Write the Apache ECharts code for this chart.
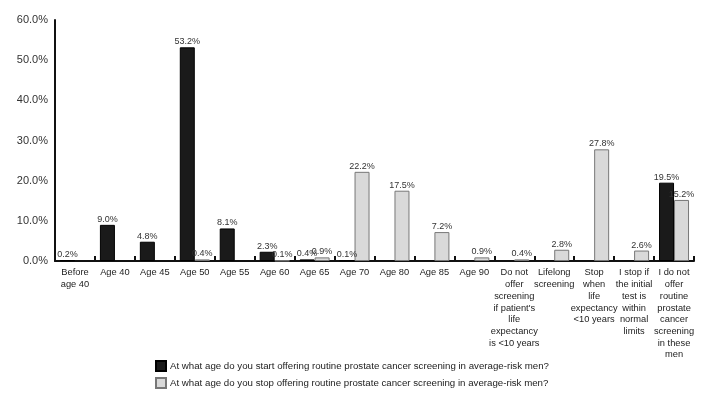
<!DOCTYPE html>
<html>
<head>
<meta charset="utf-8">
<script src="https://cdn.jsdelivr.net/npm/echarts@6/dist/echarts.min.js"></script>
<style>
  html, body { margin: 0; padding: 0; background: #fff; }
  #chart { width: 717px; height: 400px; }
</style>
</head>
<body>
<div id="chart"></div>
<script>
// categories (x axis)
var categories = [
    'Before\nage 40', 'Age 40', 'Age 45', 'Age 50', 'Age 55', 'Age 60', 'Age 65', 'Age 70',
    'Age 80', 'Age 85', 'Age 90',
    'Do not\noffer\nscreening\nif patient\'s\nlife\nexpectancy\nis <10 years',
    'Lifelong\nscreening',
    'Stop\nwhen\nlife\nexpectancy\n<10 years',
    'I stop if\nthe initial\ntest is\nwithin\nnormal\nlimits',
    'I do not\noffer\nroutine\nprostate\ncancer\nscreening\nin these\nmen'
];

var startName = 'At what age do you start offering routine prostate cancer screening in average-risk men?';
var stopName = 'At what age do you stop offering routine prostate cancer screening in average-risk men?';

// percentages
var startValues = [0.2, 9.0, 4.8, 53.2, 8.1, 2.3, 0.4, 0.1, null, null, null, null, null, null, null, 19.5];
var stopValues = [null, null, null, 0.4, null, 0.1, 0.9, 22.2, 17.5, 7.2, 0.9, 0.4, 2.8, 27.8, 2.6, 15.2];

var yTicks = [0, 10, 20, 30, 40, 50, 60];

var font = 'Liberation Sans, Arial, sans-serif';

function pct(v) {
    return Number(v).toFixed(1) + '%';
}

var barLabel = {
    show: true,
    position: 'top',
    distance: 1,
    fontFamily: font,
    fontSize: 9,
    color: '#333',
    formatter: function (p) { return pct(p.value); }
};

function legendRow(name, top) {
    return {
        left: 150,
        top: top,
        itemWidth: 10,
        itemHeight: 10,
        icon: 'rect',
        textStyle: { fontFamily: font, fontSize: 9.7, color: '#222', padding: [0, 0, 0, -1] },
        data: [name]
    };
}

var chart = echarts.init(document.getElementById('chart'));
chart.setOption({
    backgroundColor: '#fff',
    animation: false,
    grid: { left: 55, right: 23, top: 20, bottom: 139 },
    legend: [legendRow(startName, 355), legendRow(stopName, 372)],
    xAxis: {
        type: 'category',
        data: categories,
        axisLine: { lineStyle: { color: '#111', width: 2 } },
        axisTick: { show: true, inside: true, length: 5, lineStyle: { color: '#111', width: 2 } },
        axisLabel: {
            interval: 0,
            fontFamily: font,
            fontSize: 9.3,
            color: '#222',
            lineHeight: 11.7,
            margin: 6
        }
    },
    yAxis: {
        type: 'value',
        min: yTicks[0],
        max: yTicks[yTicks.length - 1],
        interval: 10,
        splitLine: { show: false },
        axisLine: { show: true, lineStyle: { color: '#111', width: 2 } },
        axisTick: { show: false },
        axisLabel: {
            fontFamily: font,
            fontSize: 11,
            color: '#333',
            margin: 7,
            formatter: function (v) { return pct(v); }
        }
    },
    series: [
        {
            name: startName,
            type: 'bar',
            data: startValues,
            barWidth: 15,
            barGap: '0%',
            itemStyle: { color: '#1a1a1a', borderColor: '#000', borderWidth: 1 },
            label: barLabel
        },
        {
            name: stopName,
            type: 'bar',
            data: stopValues,
            barWidth: 15,
            itemStyle: { color: '#d9d9d9', borderColor: '#777', borderWidth: 1 },
            label: barLabel
        }
    ]
});
</script>
</body>
</html>
